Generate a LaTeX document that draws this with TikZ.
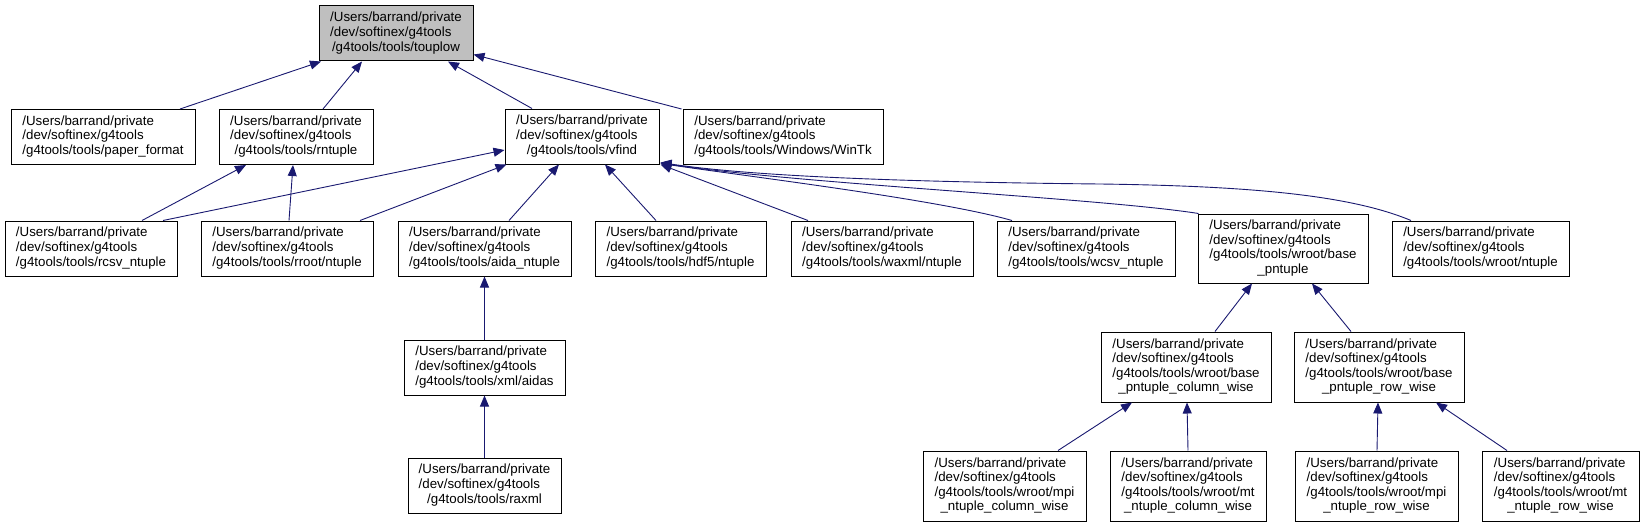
\documentclass[tikz,border=0pt]{standalone}
\usepackage{fontspec}
\setmainfont{Liberation Sans}
\usetikzlibrary{arrows.meta}
\definecolor{edgecol}{HTML}{191970}
\definecolor{rootfill}{HTML}{BFBFBF}
\newcommand{\dlab}[3]{\begin{tabular}{@{}l@{}}#1\\#2\\\multicolumn{1}{@{}c@{}}{#3}\end{tabular}}
\newcommand{\dlabf}[4]{\begin{tabular}{@{}l@{}}#1\\#2\\#3\\\multicolumn{1}{@{}c@{}}{#4}\end{tabular}}
\tikzset{
  dbox/.style={draw=black, line width=1pt, inner sep=0pt, fill=white,
    font=\fontsize{13.3}{14.6}\selectfont, minimum height=55pt},
  dboxf/.style={dbox, minimum height=70pt},
  dedge/.style={draw=edgecol, line width=0.9pt, -{Triangle[length=11pt,width=9pt]}},
}
\begin{document}
\begin{tikzpicture}[x=1pt,y=-1pt]
\useasboundingbox (0,0) rectangle (1644,527);
% row 0
\node[dbox, fill=rootfill, minimum width=154pt] (touplow) at (396,33.5) {\dlab{/Users/barrand/private}{/dev/softinex/g4tools}{/g4tools/tools/touplow}};
% row 1
\node[dbox, minimum width=184pt] (paper) at (103,137) {\dlab{/Users/barrand/private}{/dev/softinex/g4tools}{/g4tools/tools/paper\_format}};
\node[dbox, minimum width=154pt] (rntuple) at (296,137) {\dlab{/Users/barrand/private}{/dev/softinex/g4tools}{/g4tools/tools/rntuple}};
\node[dbox, minimum width=154pt] (vfind) at (582,136.5) {\dlab{/Users/barrand/private}{/dev/softinex/g4tools}{/g4tools/tools/vfind}};
\node[dbox, minimum width=200pt] (wintk) at (783,137) {\dlab{/Users/barrand/private}{/dev/softinex/g4tools}{/g4tools/tools/Windows/WinTk}};
% row 2
\node[dbox, minimum width=172pt] (rcsv) at (91,248.5) {\dlab{/Users/barrand/private}{/dev/softinex/g4tools}{/g4tools/tools/rcsv\_ntuple}};
\node[dbox, minimum width=172pt] (rroot) at (287,248.5) {\dlab{/Users/barrand/private}{/dev/softinex/g4tools}{/g4tools/tools/rroot/ntuple}};
\node[dbox, minimum width=173pt] (aida) at (484.5,248.5) {\dlab{/Users/barrand/private}{/dev/softinex/g4tools}{/g4tools/tools/aida\_ntuple}};
\node[dbox, minimum width=171pt] (hdf5) at (680.5,248.5) {\dlab{/Users/barrand/private}{/dev/softinex/g4tools}{/g4tools/tools/hdf5/ntuple}};
\node[dbox, minimum width=182pt] (waxml) at (882,248.5) {\dlab{/Users/barrand/private}{/dev/softinex/g4tools}{/g4tools/tools/waxml/ntuple}};
\node[dbox, minimum width=178pt] (wcsv) at (1086,248.5) {\dlab{/Users/barrand/private}{/dev/softinex/g4tools}{/g4tools/tools/wcsv\_ntuple}};
\node[dboxf, minimum width=170pt, minimum height=69pt] (base) at (1283,248.5) {\dlabf{/Users/barrand/private}{/dev/softinex/g4tools}{/g4tools/tools/wroot/base}{\_pntuple}};
\node[dbox, minimum width=177pt] (wrn) at (1480.5,248.5) {\dlab{/Users/barrand/private}{/dev/softinex/g4tools}{/g4tools/tools/wroot/ntuple}};
% row 3
\node[dbox, minimum width=161pt] (aidas) at (484.5,367.5) {\dlab{/Users/barrand/private}{/dev/softinex/g4tools}{/g4tools/tools/xml/aidas}};
\node[dboxf, minimum width=170pt] (colwise) at (1186,367) {\dlabf{/Users/barrand/private}{/dev/softinex/g4tools}{/g4tools/tools/wroot/base}{\_pntuple\_column\_wise}};
\node[dboxf, minimum width=170pt] (rowwise) at (1379,367) {\dlabf{/Users/barrand/private}{/dev/softinex/g4tools}{/g4tools/tools/wroot/base}{\_pntuple\_row\_wise}};
% row 4
\node[dbox, minimum width=153pt] (raxml) at (484.5,485.5) {\dlab{/Users/barrand/private}{/dev/softinex/g4tools}{/g4tools/tools/raxml}};
\node[dboxf, minimum width=163pt] (mpicol) at (1004.5,486) {\dlabf{/Users/barrand/private}{/dev/softinex/g4tools}{/g4tools/tools/wroot/mpi}{\_ntuple\_column\_wise}};
\node[dboxf, minimum width=156pt] (mtcol) at (1188,486) {\dlabf{/Users/barrand/private}{/dev/softinex/g4tools}{/g4tools/tools/wroot/mt}{\_ntuple\_column\_wise}};
\node[dboxf, minimum width=163pt] (mpirow) at (1376.5,486) {\dlabf{/Users/barrand/private}{/dev/softinex/g4tools}{/g4tools/tools/wroot/mpi}{\_ntuple\_row\_wise}};
\node[dboxf, minimum width=157pt] (mtrow) at (1560.5,486) {\dlabf{/Users/barrand/private}{/dev/softinex/g4tools}{/g4tools/tools/wroot/mt}{\_ntuple\_row\_wise}};
% edges to touplow
\draw[dedge] ([xshift=77pt]paper.north) -- ([xshift=-75pt]touplow.south);
\draw[dedge] ([xshift=27pt]rntuple.north) -- ([xshift=-34pt]touplow.south);
\draw[dedge] ([xshift=-50pt]vfind.north) -- ([xshift=52pt]touplow.south);
\draw[dedge] ([xshift=-1pt]wintk.north west) -- ([yshift=-21pt]touplow.east);
% edges to rntuple
\draw[dedge] ([xshift=51pt]rcsv.north) -- ([xshift=-50pt]rntuple.south);
\draw[dedge] ([xshift=2pt]rroot.north) -- ([xshift=-3pt]rntuple.south);
% edges to vfind
\draw[dedge] ([xshift=72pt]rcsv.north) -- ([yshift=-13.5pt]vfind.west);
\draw[dedge] ([xshift=73pt]rroot.north) -- ([xshift=2pt]vfind.south west);
\draw[dedge] ([xshift=24.5pt]aida.north) -- ([xshift=-23pt]vfind.south);
\draw[dedge] ([xshift=-24.5pt]hdf5.north) -- ([xshift=23pt]vfind.south);
\draw[dedge] ([xshift=-74pt]waxml.north) -- ([xshift=1pt]vfind.south east);
\draw[dedge] ([xshift=-74pt]wcsv.north) .. controls (940,200) and (760,178) .. ([xshift=1pt,yshift=1pt]vfind.south east);
\draw[dedge] ([xshift=1pt]base.north west) .. controls (1100,198) and (800,184) .. ([xshift=1pt,yshift=1.5pt]vfind.south east);
\draw[dedge] ([xshift=-69.5pt]wrn.north) .. controls (1350,195) and (1250,186) .. (1100,184) .. controls (900,182) and (750,176) .. ([xshift=1pt,yshift=2pt]vfind.south east);
% aida chain
\draw[dedge] (aidas.north) -- (aida.south);
\draw[dedge] (raxml.north) -- (aidas.south);
% base chain
\draw[dedge] ([xshift=29pt]colwise.north) -- ([xshift=-31pt]base.south);
\draw[dedge] ([xshift=-28pt]rowwise.north) -- ([xshift=29pt]base.south);
\draw[dedge] ([xshift=53.5pt]mpicol.north) -- ([xshift=-54pt]colwise.south);
\draw[dedge] (mtcol.north) -- ([xshift=1pt]colwise.south);
\draw[dedge] ([xshift=0.5pt]mpirow.north) -- ([xshift=-1pt]rowwise.south);
\draw[dedge] ([xshift=-53.5pt]mtrow.north) -- ([xshift=57pt]rowwise.south);
\end{tikzpicture}
\end{document}
